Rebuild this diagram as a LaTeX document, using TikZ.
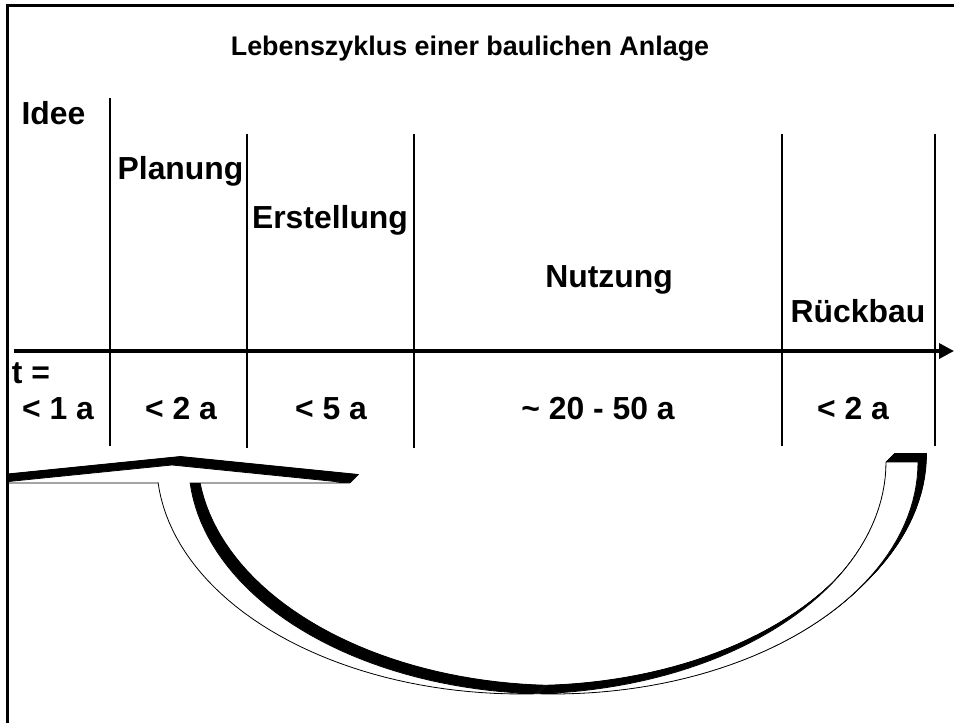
\documentclass[tikz,border=0pt]{standalone}
\usepackage{fontspec}
\setmainfont{Liberation Sans}
\usetikzlibrary{arrows.meta}

% outline of the curved return arrow (crescent shaft with flat arrowhead)
\newcommand\returnarrowpath{%
  plot[domain=0:174.81, samples=90] ({553.3+364.7*cos(\x)},{462+232*sin(\x)})
  -- (350,483) -- (172,465) -- (-6,483) -- (158.1,483)
  -- plot[domain=174.81:0, samples=90] ({521.3+364.7*cos(\x)},{462+232*sin(\x)})
  -- cycle}

\begin{document}
\begin{tikzpicture}[x=1bp, y=-1bp,
  phase/.style={font=\fontsize{32}{36}\selectfont\bfseries, inner sep=0pt, anchor=base},
  span/.style={phase},
  heading/.style={font=\fontsize{27}{32}\selectfont\bfseries, inner sep=0pt, anchor=base},
  divider/.style={line width=1.2bp},
  axis/.style={line width=3.5bp, -{Triangle[length=15bp, width=15bp]}},
  frameline/.style={line width=3bp},
  extrusion/.style={fill=black, draw=black, line width=0.8bp, line join=round}]

\useasboundingbox (0,0) rectangle (954,723);
\fill[white] (0,0) rectangle (954,723);

% title
\node[heading] (title) at (470,56) {Lebenszyklus einer baulichen Anlage};

% phase names
\node[phase] (idee)  at (53.5,125) {Idee};
\node[phase] (plan)  at (180.5,180) {Planung};
\node[phase] (erst)  at (330,228) {Erstellung};
\node[phase] (nutz)  at (609,287) {Nutzung};
\node[phase] (rueck) at (858,322) {Rückbau};

% phase dividers
\coordinate (d1a) at (110,98);  \coordinate (d1b) at (110,446);
\coordinate (d2a) at (247,134); \coordinate (d2b) at (247,448);
\coordinate (d3a) at (414,134); \coordinate (d3b) at (414,448);
\coordinate (d4a) at (782,134); \coordinate (d4b) at (782,446);
\coordinate (d5a) at (935,134); \coordinate (d5b) at (935,446);
\draw[divider] (d1a) -- (d1b);
\draw[divider] (d2a) -- (d2b);
\draw[divider] (d3a) -- (d3b);
\draw[divider] (d4a) -- (d4b);
\draw[divider] (d5a) -- (d5b);

% time axis
\coordinate (tstart) at (14,351);
\coordinate (tend) at (954,351);
\draw[axis] (tstart) -- (tend);

% durations
\node[span] (tlab) at (31,383) {t =};
\node[span] (s1) at (58,419) {< 1 a};
\node[span] (s2) at (181,419) {< 2 a};
\node[span] (s3) at (331,419) {< 5 a};
\node[span] (s4) at (598,419) {\textasciitilde{} 20 - 50 a};
\node[span] (s5) at (853,419) {< 2 a};

% curved return arrow with extruded (3D) body
\begin{scope}
  \clip (8.5,0) rectangle (954,723);
  \foreach \k in {0.5,1,...,8.5} {
    \path[extrusion, shift={(\k,-\k)}] \returnarrowpath;
  }
  \filldraw[fill=white, draw=black, line width=0.8bp] \returnarrowpath;
\end{scope}

% frame
\draw[frameline] (7,723) -- (7,6) -- (954,6);

\end{tikzpicture}
\end{document}
